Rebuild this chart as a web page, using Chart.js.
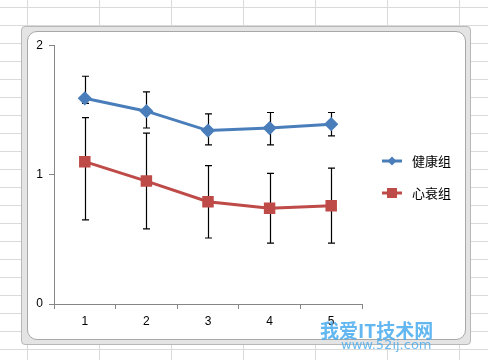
<!DOCTYPE html>
<html>
<head>
<meta charset="utf-8">
<script src="https://cdn.jsdelivr.net/npm/chart.js@4"></script>
<style>
  html, body { margin: 0; padding: 0; }
  body {
    width: 488px; height: 360px; overflow: hidden; position: relative;
    background-color: #fff;
    background-image: linear-gradient(to right, #dadada 1px, transparent 1px),
                      linear-gradient(to bottom, #dadada 1px, transparent 1px);
    background-size: 72px 18px;
    background-position: 27px 7px;
  }
  .frame {
    position: absolute; left: 21px; top: 26px; width: 448px; height: 317px;
    background: #e4e4e4; border: 1px solid #b8b8b8; border-radius: 4px;
  }
  .inner {
    position: absolute; left: 27px; top: 31px; width: 437px; height: 307px;
    background: #fff; border: 1px solid #a8a8a8; border-radius: 10px; overflow: hidden;
  }
  canvas { position: absolute; left: 0; top: 0; }
  .wm1 {
    position: absolute; left: 320px; top: 316px; font: bold 19px "Noto Sans CJK SC", sans-serif;
    color: rgba(70, 170, 238, 0.85); white-space: nowrap;
  }
  .wm2 {
    position: absolute; left: 341px; top: 337px; font: 13px "DejaVu Sans", sans-serif;
    color: rgba(70, 170, 238, 0.8); white-space: nowrap;
  }
</style>
</head>
<body>
<div class="frame"></div>
<div class="inner"><canvas id="chart" width="437" height="307"></canvas></div>
<div class="wm1">我爱IT技术网</div>
<div class="wm2">www.52ij.com</div>
<script>
// ------------------------------- data -------------------------------
var categories = ["1", "2", "3", "4", "5"];
var seriesNames = ["健康组", "心衰组"];

var healthy = [1.59, 1.49, 1.34, 1.36, 1.39];
var healthyHigh = [1.76, 1.64, 1.47, 1.48, 1.48];
var healthyLow = [1.55, 1.36, 1.23, 1.23, 1.30];

var failure = [1.10, 0.95, 0.79, 0.74, 0.76];
var failureHigh = [1.44, 1.32, 1.07, 1.01, 1.05];
var failureLow = [0.65, 0.58, 0.51, 0.47, 0.47];

var yTicks = [0, 1, 2];

var axisColor = "#868686";
var tickFont = { family: "Liberation Sans", size: 12 };

// error bars, drawn through the y scale
var errorBars = {
  id: "errorBars",
  beforeDatasetsDraw: function(chart) {
    var ctx = chart.ctx;
    var y = chart.scales.y;
    ctx.save();
    ctx.strokeStyle = "#000";
    ctx.lineWidth = 1.2;
    chart.data.datasets.forEach(function(ds, d) {
      var meta = chart.getDatasetMeta(d);
      meta.data.forEach(function(pt, i) {
        var x = Math.round(pt.x) + 0.5;
        var top = y.getPixelForValue(ds.high[i]);
        var bot = y.getPixelForValue(ds.low[i]);
        ctx.beginPath();
        ctx.moveTo(x, top); ctx.lineTo(x, bot);
        ctx.moveTo(x - 3.5, top); ctx.lineTo(x + 3.5, top);
        ctx.moveTo(x - 3.5, bot); ctx.lineTo(x + 3.5, bot);
        ctx.stroke();
      });
    });
    ctx.restore();
  }
};

// legend on the right, Excel style (line with marker)
var sideLegend = {
  id: "sideLegend",
  afterDraw: function(chart) {
    var ctx = chart.ctx;
    ctx.save();
    ctx.font = '13px "Noto Sans CJK SC"';
    ctx.textBaseline = "middle";
    chart.data.datasets.forEach(function(ds, d) {
      var ly = 129 + d * 32;
      ctx.strokeStyle = ds.borderColor;
      ctx.lineWidth = 3;
      ctx.beginPath(); ctx.moveTo(354, ly); ctx.lineTo(374, ly); ctx.stroke();
      ctx.fillStyle = ds.borderColor;
      if (ds.pointStyle === "rect") {
        ctx.fillRect(359, ly - 5, 10, 10);
      } else {
        ctx.beginPath();
        ctx.moveTo(364, ly - 4.5); ctx.lineTo(368.5, ly);
        ctx.lineTo(364, ly + 4.5); ctx.lineTo(359.5, ly);
        ctx.closePath(); ctx.fill();
      }
      ctx.fillStyle = "#000";
      ctx.fillText(ds.label, 384, ly);
    });
    ctx.restore();
  }
};

new Chart(document.getElementById("chart"), {
  type: "line",
  data: {
    labels: categories,
    datasets: [{
      label: seriesNames[0],
      data: healthy, high: healthyHigh, low: healthyLow,
      borderColor: "#4a7ebb", backgroundColor: "#4a7ebb",
      borderWidth: 3, pointStyle: "rectRot", pointRadius: 5, pointHoverRadius: 5
    }, {
      label: seriesNames[1],
      data: failure, high: failureHigh, low: failureLow,
      borderColor: "#be4b48", backgroundColor: "#be4b48",
      borderWidth: 3, pointStyle: "rect", pointRadius: 6, pointHoverRadius: 6
    }]
  },
  options: {
    responsive: false,
    animation: false,
    events: [],
    layout: { padding: { top: 13, right: 103, left: 0, bottom: 0 } },
    plugins: { legend: { display: false }, tooltip: { enabled: false } },
    scales: {
      x: {
        offset: true,
        grid: { display: true, drawOnChartArea: false, tickLength: 5, color: axisColor, offset: true },
        border: { color: axisColor, width: 1 },
        ticks: { color: "#000", font: tickFont, padding: 5, maxRotation: 0 },
        afterFit: function(s) { s.height = 35; }
      },
      y: {
        min: 0, max: 2,
        afterBuildTicks: function(s) { s.ticks = yTicks.map(function(v) { return { value: v }; }); },
        grid: { display: true, drawOnChartArea: false, tickLength: 5, color: axisColor },
        border: { color: axisColor, width: 1 },
        ticks: { color: "#000", font: tickFont, padding: 6 },
        afterFit: function(s) { s.width = 26; }
      }
    }
  },
  plugins: [errorBars, sideLegend]
});
</script>
</body>
</html>
